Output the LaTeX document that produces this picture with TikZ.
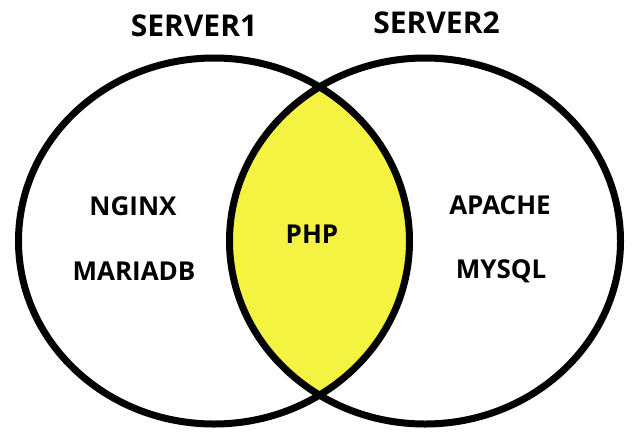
\documentclass[tikz,border=0pt]{standalone}
\usepackage{fontspec}
\setmainfont{Open Sans}
\definecolor{lensyellow}{RGB}{245,243,66}
\begin{document}
\begin{tikzpicture}[x=1pt,y=-1pt,
  ring/.style={draw=black,line width=7pt},
  title/.style={font=\fontsize{30}{30}\selectfont\bfseries,inner sep=0pt,anchor=center},
  item/.style={font=\fontsize{26}{26}\selectfont\bfseries,inner sep=0pt,anchor=center}]
\useasboundingbox (0,0) rectangle (636,440);
\fill[white] (0,0) rectangle (636,440);
\begin{scope}
  \clip (214,241) ellipse [x radius=195.5, y radius=183];
  \fill[lensyellow] (425,241) ellipse [x radius=195.5, y radius=183];
\end{scope}
\draw[ring] (214,241) ellipse [x radius=195.5, y radius=183];
\draw[ring] (425,241) ellipse [x radius=195.5, y radius=183];
\node[title] (s1) at (194,26) {SERVER1};
\node[title] (s2) at (436.5,22.5) {SERVER2};
\node[item] (nginx) at (133,206) {NGINX};
\node[item] (maria) at (134,271) {MARIADB};
\node[item] (php) at (312,234) {PHP};
\node[item] (apache) at (500,205.5) {APACHE};
\node[item] (mysql) at (501,271) {MYSQL};
\end{tikzpicture}
\end{document}
